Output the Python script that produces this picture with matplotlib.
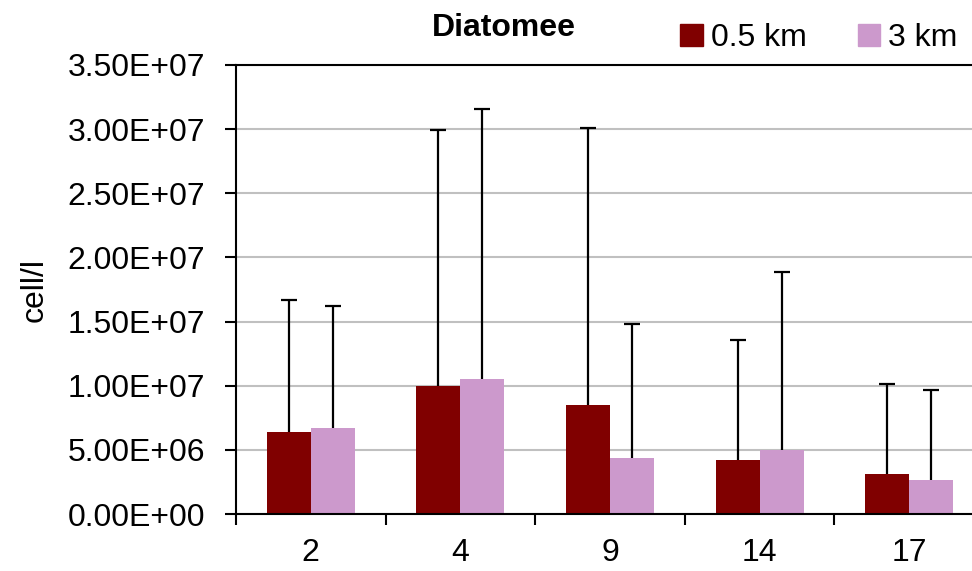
import numpy as np
import matplotlib.pyplot as plt
from matplotlib.patches import Patch
from matplotlib.ticker import FuncFormatter

# Data
stations = ["2", "4", "9", "14", "17"]
mean_05km = [6.41e6, 1.00e7, 8.46e6, 4.22e6, 3.15e6]
mean_3km = [6.72e6, 1.05e7, 4.38e6, 5.00e6, 2.66e6]
top_05km = [1.666e7, 2.995e7, 3.01e7, 1.357e7, 1.01e7]   # upper end of error bars
top_3km = [1.62e7, 3.16e7, 1.48e7, 1.883e7, 9.66e6]

plt.rcParams['font.family'] = ['Liberation Sans', 'DejaVu Sans']

fig = plt.figure(figsize=(9.72, 5.71), dpi=100)
ax = fig.add_axes([236 / 972, 57 / 571, 748 / 972, 449 / 571])

x = np.arange(len(stations))
w = 0.294
dark = "#800000"
pink = "#CC99CC"

ax.bar(x - w / 2, mean_05km, w, color=dark, zorder=2)
ax.bar(x + w / 2, mean_3km, w, color=pink, zorder=2)

# upward-only error bars with a cap at the top
for xs, lo, hi in [(x - w / 2, mean_05km, top_05km), (x + w / 2, mean_3km, top_3km)]:
    ax.vlines(xs, lo, hi, color="black", linewidth=1.6, zorder=3)
    ax.plot(xs, hi, ls="none", marker="_", ms=11, mew=1.6, color="black", zorder=3)

# axes
ax.set_xlim(-0.5, len(stations) - 0.5)
ax.set_ylim(0, 3.5e7)
ax.set_yticks(np.arange(0, 3.51e7, 5e6))
ax.yaxis.set_major_formatter(FuncFormatter(lambda v, p: "%.2E" % v))
ax.yaxis.grid(True, color="#C0C0C0", linewidth=1.5, zorder=0)
ax.set_axisbelow(True)

ax.set_xticks(x)
ax.set_xticklabels(stations)
ax.set_xticks(np.arange(-0.5, len(stations)), minor=True)
ax.tick_params(axis="x", which="major", length=0, labelsize=23, pad=17)
ax.tick_params(axis="x", which="minor", length=8, width=1.5, direction="out")
ax.tick_params(axis="y", length=8, width=1.5, labelsize=23, pad=14)

for s in ["left", "bottom", "top"]:
    ax.spines[s].set_linewidth(1.5)
ax.spines["right"].set_visible(False)

fig.text(35 / 972, 1 - 290 / 571, "cell/l", fontsize=23, rotation=90,
         ha="center", va="center")
fig.text(504 / 972, 1 - 28 / 571, "Diatomee", fontsize=23, fontweight="bold",
         ha="center", va="center")

handles = [Patch(color=dark), Patch(color=pink)]
fig.legend(handles, ["0.5 km", "3 km"], loc="center", ncol=2,
           bbox_to_anchor=(819 / 972, 1 - 38 / 571), frameon=False,
           fontsize=23, handlelength=0.7, handleheight=0.7,
           handletextpad=0.25, columnspacing=1.6, borderpad=0)

plt.savefig("out.png", dpi=100)
